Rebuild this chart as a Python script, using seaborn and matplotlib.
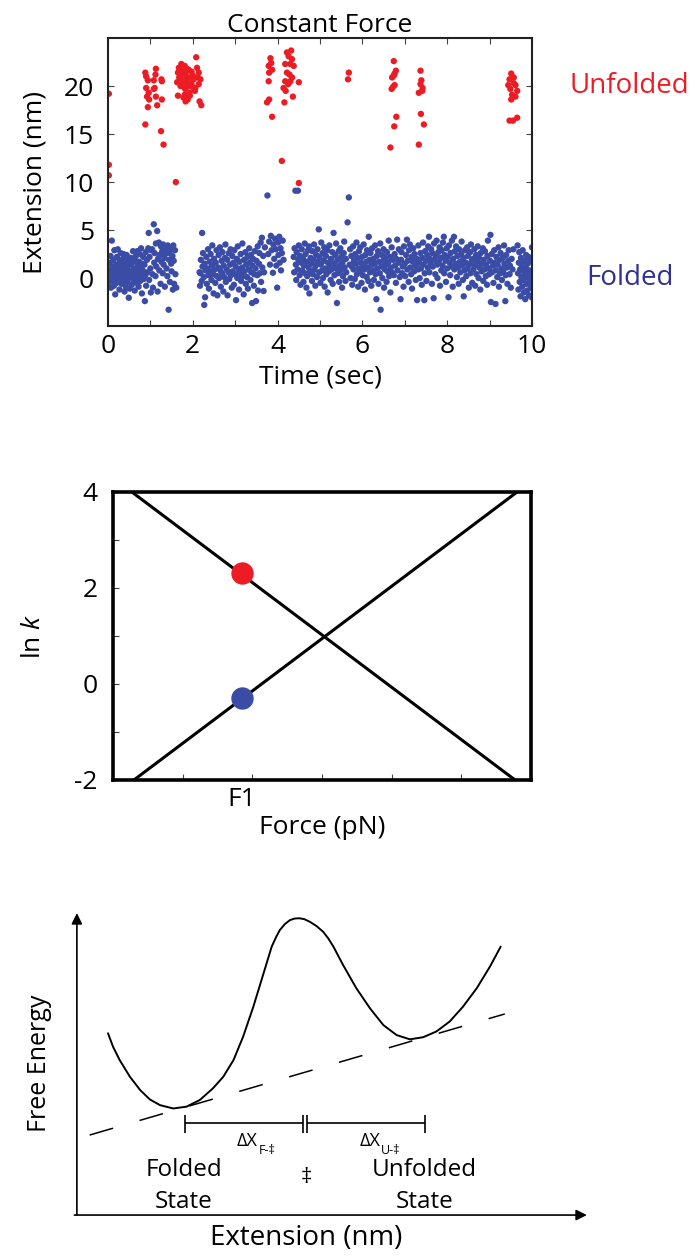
import numpy as np
import pandas as pd
import matplotlib.pyplot as plt
import seaborn as sns
from matplotlib.ticker import FixedLocator

sns.set_theme(style="white")
plt.rcParams['font.family'] = ['Open Sans', 'DejaVu Sans']
plt.rcParams['mathtext.fontset'] = 'custom'
plt.rcParams['mathtext.rm'] = 'Open Sans'
plt.rcParams['mathtext.it'] = 'Open Sans:italic'
plt.rcParams['axes.unicode_minus'] = False
plt.rcParams['text.color'] = 'black'
plt.rcParams['axes.labelcolor'] = 'black'
plt.rcParams['xtick.labelcolor'] = 'black'
plt.rcParams['ytick.labelcolor'] = 'black'

RED = '#ed1c24'
BLUE = '#3b4ca6'
BLUE_TXT = '#2e3192'

# --- panel 1: extension vs time at constant force (time sec, extension nm)
unfolded_pts = [
    (0.02, 19.2), (0.02, 11.8), (0.02, 10.7),
    (0.88, 21.4), (0.90, 21.0), (0.94, 20.6), (0.90, 19.8), (0.96, 19.3), (0.92, 18.9),
    (0.97, 18.6), (0.94, 17.8), (1.13, 21.8), (1.12, 21.2), (1.08, 20.6), (1.10, 19.8),
    (1.13, 18.9), (1.16, 18.0), (1.26, 20.7), (1.27, 20.5), (1.27, 18.6), (1.08, 19.7),
    (0.88, 16.0), (1.25, 15.3), (1.31, 13.9), (1.60, 10.0),
    (1.73, 22.3), (1.67, 21.9), (1.81, 22.1), (1.90, 21.7), (1.65, 21.4), (1.74, 21.2),
    (1.83, 21.3), (1.97, 21.5), (2.08, 23.0), (2.10, 21.9), (2.14, 21.4), (1.63, 20.4),
    (1.74, 20.5), (1.84, 20.5), (1.92, 20.9), (2.02, 20.7), (2.14, 20.2), (2.18, 20.7),
    (1.71, 20.0), (1.82, 19.7), (1.90, 20.0), (2.01, 19.8), (2.05, 19.5), (1.65, 19.0),
    (1.78, 18.8), (1.83, 18.4), (1.92, 19.3), (1.97, 20.2), (2.16, 18.4), (2.20, 18.0),
    (1.81, 19.1), (1.84, 20.9), (1.73, 21.6), (1.70, 21.0), (1.78, 20.0), (1.86, 21.8),
    (1.95, 20.3), (2.00, 21.1), (2.06, 19.8), (1.88, 18.6), (1.68, 20.9), (1.93, 19.0),
    (2.12, 20.9),
    (3.83, 22.9), (3.85, 22.4), (3.79, 22.1), (3.87, 21.7), (3.80, 21.4), (3.79, 20.5),
    (3.80, 18.6), (3.75, 18.3), (3.87, 16.8),
    (4.32, 23.7), (4.22, 23.5), (4.26, 23.1), (4.34, 22.8), (4.18, 22.3), (4.30, 22.3),
    (4.38, 22.1), (4.22, 21.4), (4.28, 21.2), (4.34, 20.9), (4.18, 20.5), (4.25, 20.2),
    (4.14, 19.8), (4.19, 19.5), (4.30, 20.5), (4.50, 20.4), (4.36, 18.9), (4.16, 18.3),
    (4.10, 12.2), (4.50, 9.9),
    (5.68, 21.4), (5.66, 20.7),
    (6.74, 22.6), (6.79, 21.6), (6.76, 21.3), (6.70, 20.9), (6.74, 21.1), (6.76, 20.1),
    (6.69, 19.7), (6.72, 19.9), (6.80, 16.8), (6.75, 15.8), (6.66, 13.6),
    (7.37, 21.6), (7.39, 20.6), (7.37, 20.2), (7.42, 19.8), (7.33, 19.3), (7.41, 19.5),
    (7.38, 17.1), (7.45, 16.0), (7.33, 13.9),
    (9.51, 21.3), (9.47, 20.7), (9.57, 20.3), (9.44, 20.1), (9.61, 20.1), (9.49, 19.7),
    (9.65, 19.5), (9.53, 19.1), (9.51, 18.6), (9.61, 18.9), (9.47, 16.4), (9.55, 16.4),
    (9.65, 16.7), (9.57, 20.9),
]

folded_pts = [
    (0.02, 0.8), (0.03, -0.4), (0.04, 1.6), (0.05, 0.1), (0.06, 2.3), (0.07, -1.0), (0.08, 0.6),
    (0.09, 3.9), (0.10, 1.2), (0.11, -0.2), (0.12, 0.4), (0.13, 1.9), (0.14, -0.8), (0.15, 2.9),
    (0.16, 0.9), (0.17, -1.7), (0.18, 0.2), (0.19, 1.4), (0.20, -0.5), (0.21, 2.2), (0.22, 0.7),
    (0.23, 3.0), (0.24, -0.1), (0.25, 1.1), (0.26, 0.5), (0.27, -1.2), (0.28, 1.8), (0.29, 0.0),
    (0.30, 2.6), (0.31, 0.9), (0.32, -0.6), (0.33, 1.5), (0.34, 0.3), (0.35, 2.0), (0.36, -0.3),
    (0.37, 2.5), (0.38, 1.0), (0.39, -1.4), (0.40, 0.6), (0.41, 1.7), (0.42, -0.9), (0.43, 0.2),
    (0.44, 2.4), (0.45, 1.2), (0.46, -0.4), (0.47, 0.8), (0.48, 1.9), (0.49, -2.05), (0.50, 0.4),
    (0.51, -1.1), (0.52, 1.4), (0.53, 0.1), (0.54, 2.1), (0.55, 0.7), (0.56, -0.7), (0.57, 1.6),
    (0.58, 0.3), (0.59, 2.8), (0.60, -0.2), (0.61, 1.0), (0.62, 0.5), (0.63, -1.3), (0.64, 1.8),
    (0.65, 0.0), (0.66, 2.3), (0.67, 0.9), (0.68, -0.5), (0.69, 2.8), (0.70, 1.3), (0.71, 0.2),
    (0.72, -0.9), (0.73, 1.7), (0.74, 0.6), (0.75, 2.5), (0.76, -0.3), (0.77, 1.1), (0.78, 3.1),
    (0.79, 0.4), (0.80, -1.6), (0.81, 1.5), (0.82, 0.8), (0.83, 2.2), (0.84, -0.1),
    (0.86, 1.4), (0.87, -2.4), (0.88, 0.3), (0.89, 2.7), (0.90, -0.8), (0.92, 1.9), (0.93, 0.6),
    (0.95, 3.1), (0.96, 4.7), (0.97, -0.2), (0.98, 2.2), (1.00, 1.0), (1.01, -1.5), (1.02, 2.9),
    (1.04, 3.0), (1.05, 0.4), (1.06, -1.0), (1.08, 5.6), (1.09, 1.6), (1.10, 2.6), (1.12, 0.2),
    (1.13, 3.6), (1.14, 1.2), (1.16, 4.9), (1.17, -1.4), (1.18, 2.0), (1.20, 3.7), (1.21, 0.8),
    (1.22, 2.4), (1.24, -0.6), (1.25, 3.3), (1.26, 1.7), (1.28, 2.8), (1.29, 0.5), (1.30, 3.5),
    (1.31, 1.4), (1.33, 2.1), (1.34, -0.9), (1.35, 2.5), (1.36, 3.1), (1.38, 1.0), (1.39, 2.7),
    (1.40, 0.2), (1.41, 3.4), (1.43, -3.3), (1.44, 1.9), (1.45, 2.6), (1.46, -0.4), (1.48, 3.0),
    (1.49, 1.5), (1.50, 0.7), (1.52, 2.3), (1.53, -1.2), (1.54, 3.4), (1.55, 1.8), (1.56, -0.6),
    (1.58, 2.9), (1.59, 0.4), (1.61, -1.0),
    (2.16, 0.6), (2.17, -0.8), (2.18, 0.5), (2.19, 1.9), (2.21, -0.3), (2.22, 4.7), (2.23, 1.2),
    (2.24, 2.6), (2.26, 0.1), (2.27, -2.8), (2.28, 1.5), (2.29, -2.0), (2.30, 0.8), (2.32, 2.2),
    (2.33, -0.6), (2.34, 1.0), (2.36, 3.0), (2.37, 0.3), (2.38, -1.1), (2.40, 1.7), (2.41, 0.7),
    (2.42, 2.5), (2.44, -0.2), (2.45, 1.3), (2.46, 3.4), (2.48, 0.4), (2.49, -1.6), (2.50, 2.0),
    (2.52, 0.9), (2.53, -0.5), (2.54, 1.6), (2.56, 2.9), (2.57, 0.2), (2.58, -1.8), (2.60, 1.1),
    (2.61, 2.4), (2.62, 0.0), (2.64, 3.2), (2.65, 0.8), (2.66, -0.9), (2.68, 1.8), (2.69, 0.5),
    (2.70, 2.7), (2.72, -1.4), (2.73, 1.3), (2.74, 0.1), (2.76, 2.1), (2.77, 3.5), (2.78, -0.4),
    (2.80, 0.9), (2.81, 1.9), (2.82, -1.8), (2.84, 0.6), (2.85, 2.6), (2.86, -0.1), (2.88, 1.4),
    (2.89, 3.0), (2.90, 0.3), (2.92, -1.0), (2.93, 2.3), (2.94, 0.7), (2.96, 1.6), (2.97, -0.7),
    (2.98, 2.9), (3.00, 0.4), (3.01, 1.2), (3.02, -2.3), (3.04, 2.0), (3.05, 0.0), (3.06, 3.3),
    (3.08, 0.9), (3.09, -1.2), (3.10, 1.7), (3.12, 0.5), (3.13, 2.5), (3.14, -0.3), (3.16, 1.1),
    (3.17, 3.6), (3.18, 0.2), (3.20, -1.7), (3.21, 1.9), (3.22, 0.7), (3.24, 2.7), (3.25, -0.6),
    (3.26, 1.4), (3.28, 0.1), (3.29, 2.2), (3.30, -1.1), (3.32, 0.9), (3.33, 3.1), (3.34, 1.6),
    (3.36, -0.2), (3.37, 2.4), (3.38, 0.6), (3.40, -2.6), (3.41, 1.3), (3.42, 2.0), (3.44, -0.8),
    (3.45, 0.4), (3.46, 2.8), (3.48, 1.0), (3.49, -2.4), (3.50, 1.8), (3.52, 0.3), (3.53, 3.3),
    (3.54, -1.3), (3.56, 1.5), (3.57, 2.6), (3.58, 0.5), (3.60, 3.7), (3.61, -0.4),
    (3.63, 4.2), (3.64, 1.1), (3.66, 2.3), (3.67, -1.35), (3.68, 0.6), (3.70, 3.2), (3.76, 8.6),
    (3.78, 2.5), (3.80, 3.8), (3.82, 1.4), (3.84, 4.4), (3.86, 2.9), (3.89, 0.55), (3.90, 3.5),
    (3.92, 2.0), (3.94, 4.1), (3.96, 3.0), (3.97, 1.3), (3.99, -1.0), (4.01, 3.7), (4.02, 2.4),
    (4.04, 4.3), (4.05, 1.6), (4.07, 3.1), (4.08, 0.8), (4.10, 2.6), (4.12, 3.9), (4.14, 1.9),
    (4.38, 2.2), (4.39, 0.6), (4.40, 3.1), (4.42, 9.1), (4.43, 1.4), (4.44, -0.2), (4.45, 2.7),
    (4.47, 0.9), (4.48, 9.1), (4.49, 1.9), (4.50, 3.4), (4.52, 0.3), (4.53, 2.3), (4.54, -0.7),
    (4.56, 1.6), (4.57, 3.0), (4.58, 0.8), (4.60, 2.0), (4.61, -0.4), (4.62, 1.3), (4.64, 3.6),
    (4.65, 0.5), (4.66, 2.5), (4.68, -1.0), (4.69, 1.7), (4.70, 0.2), (4.72, 2.9), (4.73, 1.1),
    (4.74, 3.3), (4.75, -1.6), (4.77, 0.7), (4.78, 2.1), (4.79, 1.5), (4.81, -0.3), (4.82, 2.8),
    (4.83, 0.4), (4.85, 1.9), (4.86, 3.5), (4.87, 0.9), (4.89, -0.8), (4.90, 1.3), (4.91, 2.4),
    (4.93, 0.1), (4.94, 3.0), (4.95, 1.7), (4.97, 5.07), (4.98, 0.6), (4.99, 2.2), (5.01, -0.5),
    (5.02, 1.4), (5.03, 3.7), (5.05, 0.8), (5.06, 2.6), (5.07, 0.0), (5.09, 1.8), (5.10, 3.2),
    (5.11, -0.9), (5.13, 1.0), (5.14, 2.3), (5.15, 0.4), (5.17, 2.9), (5.18, -1.5), (5.19, 1.6),
    (5.21, 0.7), (5.22, 3.4), (5.23, 1.2), (5.25, -0.2), (5.26, 2.0), (5.27, 0.9), (5.29, 2.7),
    (5.30, -0.6), (5.32, 4.7), (5.33, 1.5), (5.34, 0.3), (5.36, 2.4), (5.37, 1.0), (5.38, 3.6),
    (5.40, -2.6), (5.41, 1.9), (5.42, 0.5), (5.44, 2.8), (5.45, -0.4), (5.46, 1.3), (5.48, 3.1),
    (5.49, 0.8), (5.50, 2.2), (5.52, -1.0), (5.53, 1.6), (5.54, 0.2), (5.56, 2.6), (5.57, 3.8),
    (5.58, 1.1), (5.60, -0.3), (5.61, 2.0), (5.62, 0.6), (5.65, 5.8), (5.68, 8.4), (5.70, 1.4),
    (5.71, 3.0), (5.72, 0.0), (5.74, 2.3), (5.75, 1.2), (5.76, -0.7), (5.78, 3.3), (5.79, 0.9),
    (5.80, 1.8), (5.82, -0.1), (5.83, 2.5), (5.84, 1.5), (5.86, 3.7), (5.87, 0.4), (5.88, 2.1),
    (5.90, -0.9), (5.91, 1.0), (5.92, 2.8), (5.94, 0.7), (5.95, 3.2), (5.96, 1.6), (5.98, -0.5),
    (5.99, 2.2), (6.01, 0.3), (6.02, 1.3), (6.03, 3.5), (6.05, 0.9), (6.06, -1.2), (6.07, 2.4),
    (6.09, 1.7), (6.10, 0.1), (6.11, 2.9), (6.13, 1.1), (6.14, -0.3), (6.15, 4.3), (6.17, 1.9),
    (6.18, 0.6), (6.19, 2.6), (6.21, -0.8), (6.22, 1.4), (6.23, 3.1), (6.25, 0.8), (6.26, 2.0),
    (6.27, -0.2), (6.29, 1.5), (6.30, 3.4), (6.31, 0.4), (6.33, -2.2), (6.34, 2.3), (6.35, 1.0),
    (6.37, 2.8), (6.38, -0.6), (6.39, 1.7), (6.41, 0.5), (6.42, 3.6), (6.43, -3.3), (6.45, 1.2),
    (6.46, 2.4), (6.47, 0.0), (6.49, 1.8), (6.50, 3.0), (6.51, -1.0), (6.53, 0.9), (6.54, 2.1),
    (6.55, 1.4), (6.57, -0.4), (6.58, 2.7), (6.59, 0.7), (6.61, 1.6), (6.62, 3.9), (6.63, 0.2),
    (6.65, 2.2), (6.66, -1.5), (6.67, 1.1), (6.69, 3.2), (6.70, 0.6), (6.72, 1.9),
    (6.74, 0.3), (6.76, 2.5), (6.77, 1.3), (6.79, -0.5), (6.80, 2.0), (6.82, 4.0), (6.83, 0.8),
    (6.85, 1.6), (6.86, 3.0), (6.88, 0.1), (6.90, -2.2), (6.91, 1.9), (6.92, 2.7), (6.94, 0.5),
    (6.95, 1.2), (6.97, -0.9), (6.98, 3.3), (7.00, 1.5), (7.01, 0.2), (7.03, 2.4), (7.05, 4.0),
    (7.06, 0.9), (7.07, 1.8), (7.09, -0.4), (7.10, 2.9), (7.12, 3.5), (7.13, 1.1), (7.15, 0.4),
    (7.16, 2.2), (7.17, -1.1), (7.19, 1.7), (7.20, 3.1), (7.22, 0.7), (7.23, 2.5), (7.25, 1.3),
    (7.26, -0.2), (7.28, 2.0), (7.29, -2.3), (7.31, 0.9), (7.32, 3.4), (7.34, 1.6), (7.35, 0.0),
    (7.37, 2.6), (7.38, 1.0), (7.40, -0.7), (7.41, 2.1), (7.43, 3.7), (7.44, 1.4), (7.46, -2.3),
    (7.47, 0.5), (7.48, 2.8), (7.50, 1.8), (7.51, -0.3), (7.53, 2.4), (7.54, 1.1), (7.55, 3.3),
    (7.57, 4.3), (7.58, 0.6), (7.59, 2.0), (7.61, 1.5), (7.62, 3.0), (7.64, -0.6), (7.65, 2.6),
    (7.66, 1.2), (7.68, -2.1), (7.69, 3.6), (7.70, 1.9), (7.72, 0.4), (7.73, 2.3), (7.75, 3.9),
    (7.76, 1.4), (7.77, 0.0), (7.79, 2.7), (7.80, 1.7), (7.82, 3.2), (7.83, -0.8), (7.85, 2.1),
    (7.86, 0.8), (7.87, 2.9), (7.89, 1.3), (7.90, 3.7), (7.92, 4.3), (7.93, 0.5), (7.94, 2.4),
    (7.96, 1.8), (7.97, -0.4), (7.99, 3.1), (8.00, 1.0), (8.01, 2.2), (8.03, -2.0), (8.04, 3.4),
    (8.06, 1.6), (8.07, 0.3), (8.08, 2.6), (8.10, 1.2), (8.11, 3.9), (8.13, -0.9), (8.14, 2.0),
    (8.16, 4.3), (8.17, 0.9), (8.18, 2.8), (8.20, 1.5), (8.21, 3.3), (8.23, 0.1), (8.24, 2.3),
    (8.25, 1.1), (8.27, -0.6), (8.28, 3.0), (8.30, 1.7), (8.31, 0.6), (8.33, 2.5), (8.34, 3.8),
    (8.35, 1.3), (8.37, -0.2), (8.38, 2.1), (8.39, -1.9), (8.41, 0.8), (8.42, 2.9), (8.44, 1.6),
    (8.45, 0.2), (8.47, 3.2), (8.48, 1.0), (8.49, 2.3), (8.51, -1.0), (8.52, 1.4), (8.54, 2.7),
    (8.55, 0.5), (8.56, 3.5), (8.58, 1.8), (8.59, -0.5), (8.61, 2.0), (8.62, 0.9), (8.64, 3.0),
    (8.65, 1.3), (8.66, -0.8), (8.68, 2.4), (8.69, 0.4), (8.71, 1.7), (8.72, 3.3), (8.74, 0.0),
    (8.75, 2.1), (8.76, 1.1), (8.78, -1.2), (8.79, 2.6), (8.81, 0.7), (8.82, 1.5), (8.84, 3.1),
    (8.85, -0.3), (8.86, 1.9), (8.88, 0.9), (8.89, 2.8), (8.91, 0.2), (8.92, 1.4), (8.94, -0.7),
    (8.95, 2.3), (8.96, 3.9), (8.98, 1.0), (8.99, 0.4), (9.01, 1.8), (9.02, 4.5), (9.03, -2.5),
    (9.05, 2.5), (9.06, 0.6), (9.08, 1.3), (9.09, -0.5), (9.11, 2.9), (9.12, 1.6), (9.14, -2.7),
    (9.15, 0.8), (9.16, 2.2), (9.18, 0.1), (9.19, 1.4), (9.21, 3.2), (9.22, -0.9), (9.24, 1.9),
    (9.25, 0.5), (9.26, 2.6), (9.28, 1.0), (9.29, -0.2), (9.31, 2.1), (9.32, 0.7), (9.34, 3.4),
    (9.35, 1.5), (9.37, -2.4), (9.38, 0.3), (9.39, 2.4), (9.41, 1.1), (9.42, -0.6), (9.44, 1.8),
    (9.45, 2.9), (9.47, 0.4), (9.48, 1.3), (9.50, -1.0), (9.52, 2.0), (9.54, 0.9), (9.56, 3.0),
    (9.66, 3.4), (9.67, 0.5), (9.68, -1.2), (9.69, 1.6), (9.70, 2.7), (9.71, -0.4), (9.72, 0.9),
    (9.73, -1.9), (9.74, 2.1), (9.75, 0.1), (9.76, 1.3), (9.77, -0.9), (9.78, 2.9), (9.79, -0.2),
    (9.80, 0.7), (9.81, -1.5), (9.82, 1.8), (9.83, 0.3), (9.84, -2.2), (9.85, 1.1), (9.86, 2.4),
    (9.87, -0.6), (9.88, 0.6), (9.89, -1.3), (9.90, 1.5), (9.91, 0.0), (9.92, 2.2), (9.93, -1.8),
    (9.94, 0.8), (9.95, -0.5), (9.96, 1.9), (9.97, -1.0), (9.98, 0.4), (9.99, -2.0), (10.0, 3.2),
]

# --- panel 2: ln k vs force
down_force = [0.27, 5.77]
down_lnk = [4.0, -2.0]
up_force = [0.30, 5.80]
up_lnk = [-2.0, 4.0]
f1 = 1.85
f1_lnk_red = 2.32
f1_lnk_blue = -0.30

# --- panel 3: free energy landscape (schematic units)
landscape_x = [0.61, 0.71, 0.84, 1.04, 1.24, 1.43, 1.63, 1.89, 2.15, 2.41, 2.67, 2.87,
               3.07, 3.26, 3.46, 3.65, 3.82, 3.91, 3.98, 4.08, 4.18, 4.27, 4.36, 4.46,
               4.57, 4.70, 4.83, 4.93, 5.03, 5.22, 5.48, 5.75, 6.01, 6.27, 6.53, 6.79,
               7.05, 7.31, 7.57, 7.84, 8.10, 8.31]
landscape_g = [6.02, 5.57, 5.13, 4.58, 4.14, 3.83, 3.64, 3.53, 3.59, 3.81, 4.20, 4.58,
               5.13, 5.91, 6.90, 7.95, 8.89, 9.22, 9.44, 9.64, 9.77, 9.82, 9.83, 9.80,
               9.71, 9.57, 9.38, 9.16, 8.89, 8.28, 7.51, 6.84, 6.29, 5.96, 5.82, 5.89,
               6.08, 6.41, 6.90, 7.51, 8.23, 8.89]
tilt_x = [0.25, 8.39]
tilt_g = [2.65, 6.66]
x_folded, x_barrier, x_unfolded = 2.12, 4.47, 6.82

fig = plt.figure(figsize=(6.99, 12.56), dpi=100)

# ---------------- top panel ----------------
ax1 = fig.add_axes([0.1545, 0.7404, 0.6066, 0.2293])
trace = pd.DataFrame(folded_pts + unfolded_pts, columns=['time', 'ext'])
trace['state'] = ['Folded'] * len(folded_pts) + ['Unfolded'] * len(unfolded_pts)
sns.scatterplot(data=trace, x='time', y='ext', hue='state',
                palette={'Folded': BLUE, 'Unfolded': RED}, s=21, linewidth=0,
                legend=False, ax=ax1)
ax1.set_xlim(0, 10)
ax1.set_ylim(-5, 25)
ax1.set_xticks([0, 2, 4, 6, 8, 10])
ax1.xaxis.set_minor_locator(FixedLocator([1, 3, 5, 7, 9]))
ax1.set_yticks([0, 5, 10, 15, 20])
ax1.tick_params(which='both', direction='in', top=True, right=True, bottom=True, left=True,
                length=4, width=0.8, color='#444444', labelsize=19)
ax1.tick_params(axis='y', pad=10)
ax1.tick_params(axis='x', pad=6)
for sp in ax1.spines.values():
    sp.set_linewidth(1.5)
    sp.set_color('#222222')
ax1.set_xlabel('Time (sec)', fontsize=19, labelpad=4)
ax1.set_ylabel('Extension (nm)', fontsize=19, labelpad=12)
ax1.set_title('Constant Force', fontsize=19, pad=2)
ax1.text(1.23, 20, 'Unfolded', transform=ax1.get_yaxis_transform(), ha='center',
         va='center', color=RED, fontsize=20)
ax1.text(1.23, 0, 'Folded', transform=ax1.get_yaxis_transform(), ha='center',
         va='center', color=BLUE_TXT, fontsize=20)

# ---------------- middle panel ----------------
ax2 = fig.add_axes([0.1617, 0.379, 0.598, 0.2293])
sns.lineplot(x=down_force, y=down_lnk, color='black', linewidth=2.2, ax=ax2)
sns.lineplot(x=up_force, y=up_lnk, color='black', linewidth=2.2, ax=ax2)
sns.scatterplot(x=[f1], y=[f1_lnk_red], color=RED, s=260, linewidth=0, zorder=3, ax=ax2)
sns.scatterplot(x=[f1], y=[f1_lnk_blue], color=BLUE, s=260, linewidth=0, zorder=3, ax=ax2)
ax2.set_xlim(0, 6)
ax2.set_ylim(-2, 4)
ax2.set_xticks([f1])
ax2.set_xticklabels(['F1'])
ax2.xaxis.set_minor_locator(FixedLocator([1, 2, 3, 4, 5]))
ax2.set_yticks([-2, 0, 2, 4])
ax2.yaxis.set_minor_locator(FixedLocator([-1, 1, 3]))
ax2.tick_params(which='both', direction='in', left=True, bottom=True, length=4,
                width=0.8, color='#444444', labelsize=19)
ax2.tick_params(axis='x', which='major', length=0, pad=5)
ax2.tick_params(axis='y', pad=11)
for sp in ax2.spines.values():
    sp.set_linewidth(2.6)
    sp.set_color('black')
ax2.set_xlabel('Force (pN)', fontsize=19, labelpad=2)
ax2.set_ylabel(r'ln $k$', fontsize=19, labelpad=20)

# ---------------- bottom panel ----------------
ax3 = fig.add_axes([0.110, 0.0326, 0.7296, 0.2404])
ax3.set_xlim(0, 10)
ax3.set_ylim(0, 10)
ax3.axis('off')
arrow = dict(arrowstyle='-|>', color='black', lw=1.2, mutation_scale=16,
             shrinkA=0, shrinkB=0)
ax3.annotate('', xy=(0, 10), xytext=(0, 0), arrowprops=arrow, annotation_clip=False)
ax3.annotate('', xy=(10, 0), xytext=(-0.05, 0), arrowprops=arrow, annotation_clip=False)
sns.lineplot(x=landscape_x, y=landscape_g, color='black', linewidth=1.4, ax=ax3)
sns.lineplot(x=tilt_x, y=tilt_g, color='black', linewidth=1.1,
             linestyle=(0, (16, 18)), ax=ax3)

# distance bracket
ax3.hlines(3.05, x_folded, x_barrier - 0.04, color='black', lw=1.2)
ax3.hlines(3.05, x_barrier + 0.04, x_unfolded, color='black', lw=1.2)
ax3.vlines([x_folded, x_barrier - 0.04, x_barrier + 0.04, x_unfolded], 2.72, 3.33,
           color='black', lw=1.2)
ax3.text(3.55, 2.45, 'ΔX', ha='right', va='center', fontsize=13)
ax3.text(3.56, 2.15, 'F-‡', ha='left', va='center', fontsize=9)
ax3.text(5.96, 2.45, 'ΔX', ha='right', va='center', fontsize=13)
ax3.text(5.97, 2.15, 'U-‡', ha='left', va='center', fontsize=9)
ax3.text(2.10, 0.96, 'Folded\nState', ha='center', va='center', fontsize=17.5,
         linespacing=1.4)
ax3.text(6.81, 0.96, 'Unfolded\nState', ha='center', va='center', fontsize=17.5,
         linespacing=1.4)
ax3.text(4.49, 1.23, '‡', ha='center', va='center', fontsize=16)
ax3.text(-0.73, 5.03, 'Free Energy', rotation=90, ha='center', va='center', fontsize=18,
         clip_on=False)
ax3.text(4.49, -0.76, 'Extension (nm)', ha='center', va='center', fontsize=20,
         clip_on=False)

fig.savefig('out.png', dpi=100)
